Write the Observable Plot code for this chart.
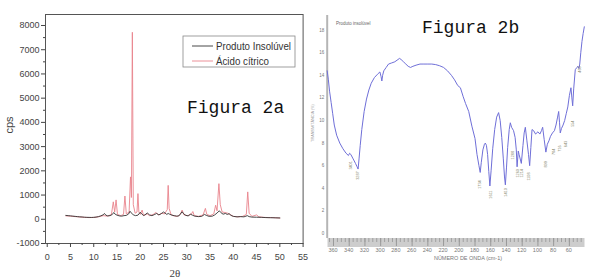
<!DOCTYPE html>
<html><head><meta charset="utf-8">
<script src="https://cdn.jsdelivr.net/npm/d3@7"></script>
<script src="https://cdn.jsdelivr.net/npm/@observablehq/plot@0.6"></script>
<style>
body{margin:0;background:#fff;}
#wrap{position:relative;width:600px;height:280px;overflow:hidden;background:#fff;}
#wrap > svg{position:absolute;top:0;}
</style></head><body><div id="wrap"></div>
<script>
// ---------- Figura 2a : XRD ----------
const insolTheta = [4.0,4.5,5,5.5,6,6.5,7,7.5,8,8.5,9,9.5,10,10.5,11,11.5,12,12.3,12.6,13,13.5,14,14.3,14.6,15,15.5,16,16.5,17,17.5,17.8,18.1,18.5,19,19.5,20,20.3,20.7,21,21.5,22,22.5,23,23.5,24,24.5,25,25.3,25.7,26,26.3,26.8,27.3,27.8,28.3,29,29.3,29.8,30.3,30.8,31.2,31.7,32.5,33.2,33.8,34.2,34.8,35.5,36,36.5,37,37.3,37.8,38.3,38.7,39.1,39.5,40,40.8,41.5,42.3,43,43.4,44,45,46,47,48,49,50];
const insolCps = [160,150,140,130,120,110,100,95,85,80,78,75,80,90,110,140,180,240,170,140,150,200,280,210,170,140,130,150,160,220,330,260,180,150,170,290,220,160,180,260,180,150,190,240,180,230,300,260,200,240,210,170,150,130,140,310,230,160,140,210,170,130,110,120,200,160,120,130,180,260,350,280,210,240,200,230,160,120,100,110,100,150,110,90,85,80,70,65,60,55];
const citricTheta = [4.0,5,6,7,8,9,10,11,12,13,13.8,14.2,14.5,14.8,15.1,15.8,16.4,16.7,17.0,17.6,17.9,18.1,18.3,18.5,18.9,19.3,19.5,19.7,20.0,20.4,20.7,21.5,22,22.8,23.3,24,24.6,25.2,25.8,26.0,26.2,26.6,27.2,28,28.6,29.0,29.4,30.2,31.0,31.3,31.6,32.5,33.5,34.0,34.3,35,35.8,36.2,36.5,36.9,37.2,37.6,38.2,38.8,39.3,40,41,42,42.8,43.1,43.4,44,45,45.5,46.5,47.5,48.5,50];
const citricCps = [140,130,110,95,80,70,75,100,150,130,200,720,300,800,200,150,200,960,220,300,1750,900,7720,600,250,300,1060,300,200,380,150,220,150,200,280,180,250,220,400,1400,450,200,140,120,200,380,180,150,220,320,150,120,180,450,200,150,220,580,350,1470,600,300,280,250,200,120,100,120,200,1130,250,120,180,100,80,70,70,50];
const xrdTicks = [0,5,10,15,20,25,30,35,40,45,50,55];
const xrdMinorTicks = [2.5,7.5,12.5,17.5,22.5,27.5,32.5,37.5,42.5,47.5,52.5];
const cpsTicks = [-1000,0,1000,2000,3000,4000,5000,6000,7000,8000];
const cpsMinorTicks = [-500,500,1500,2500,3500,4500,5500,6500,7500];
const seriesNames = ["Produto Insolúvel","Ácido cítrico"];

// ---------- Figura 2b : IR ----------
const irWavenumber = [3680,3665,3650,3630,3610,3590,3560,3520,3480,3440,3410,3395,3380,3350,3320,3300,3287,3275,3260,3240,3210,3180,3150,3120,3080,3040,3010,2995,2985,2975,2960,2930,2900,2860,2820,2780,2760,2740,2710,2680,2650,2620,2590,2550,2500,2450,2400,2350,2300,2250,2200,2150,2100,2060,2020,1986,1950,1920,1880,1840,1800,1775,1750,1734,1720,1700,1680,1669,1655,1640,1625,1611,1595,1575,1550,1525,1500,1480,1460,1440,1425,1414,1400,1385,1365,1351,1335,1310,1290,1275,1265,1250,1240,1211,1190,1175,1160,1140,1120,1105,1090,1075,1055,1030,1000,975,955,940,920,899,880,860,840,815,790,770,750,736,725,716,700,680,660,640,620,600,580,568,558,545,525,505,490,478,468,455,440,425,410];
const irTransmittance = [14.4,13.6,12.6,11.6,10.6,9.6,8.7,8.0,7.5,7.1,6.9,7.1,7.0,6.6,6.2,5.9,5.7,6.6,7.8,9.2,10.8,11.9,12.7,13.3,13.8,14.1,14.3,13.9,13.5,14.0,14.4,14.7,15.0,15.1,15.2,15.4,15.5,15.4,15.2,15.0,14.8,14.7,14.8,14.9,15.0,15.0,15.0,15.0,14.95,14.85,14.7,14.4,14.0,13.6,13.1,12.9,12.1,11.5,10.8,9.5,8.4,7.0,6.0,5.4,6.3,7.4,7.9,8.0,7.8,7.0,5.5,4.2,5.6,7.5,9.2,10.3,10.7,10.0,8.5,6.6,5.0,4.3,5.8,7.6,9.2,9.8,9.4,9.1,8.5,7.4,5.9,7.3,7.0,6.2,7.8,8.9,9.4,8.2,7.0,6.0,7.6,9.2,9.1,8.8,9.0,8.8,9.1,9.4,8.3,7.2,7.9,8.2,8.6,8.9,9.1,9.6,10.3,10.8,9.8,8.9,9.3,9.6,10.0,10.6,11.2,12.2,12.9,12.0,11.3,12.8,14.5,14.7,14.8,14.6,15.0,16.0,17.0,17.7,18.3];
const irYTicks = [0,2,4,6,8,10,12,14,16,18];
const irXTicks = [3600,3400,3200,3000,2800,2600,2400,2200,2000,1800,1600,1400,1200,1000,800,600];
const irXTickLabels = ["360","340","320","300","280","260","240","220","200","180","160","140","120","100","80","60"];
const irMinorTicks = d3.range(3650, 400, -50);
const irPeakWn = [3384,3286,1741,1605,1406,1326,1262,1211,1110,894,792,716,643,554,474];
const irPeakLabel = ["3401","3287","1734","1611","1410","1288","1260","1214","1108","899","784","716","643","554","469"];
const irPeakT = [6.4,5.5,4.7,3.8,4.0,7.3,5.7,5.7,5.4,6.4,7.5,7.8,8.2,10.0,14.8];

const insol = insolTheta.map((x, i) => ({x, y: insolCps[i]}));
const citric = citricTheta.map((x, i) => ({x, y: citricCps[i]}));
const ir = irWavenumber.map((wn, i) => ({wn, t: irTransmittance[i]}));
const peaks = irPeakWn.map((wn, i) => ({wn, t: irPeakT[i], label: irPeakLabel[i]}));

const left = Plot.plot({
  width: 306, height: 280,
  marginLeft: 45, marginRight: 3.4, marginTop: 14, marginBottom: 37,
  style: {background: "transparent", color: "#444", fontFamily: "'Liberation Sans', Arial, sans-serif", fontSize: "9px", overflow: "visible"},
  x: {domain: [-0.37, 55]},
  y: {domain: [-1000, 8454]},
  marks: [
    Plot.line(citric, {x: "x", y: "y", stroke: "#e9838c", strokeWidth: 0.9}),
    Plot.line(insol, {x: "x", y: "y", stroke: "#333", strokeWidth: 0.9}),
    Plot.frame({stroke: "#555"}),
    Plot.axisY({ticks: cpsTicks, tickSize: 4, tickPadding: 2, tickFormat: d => String(d), label: null}),
    Plot.axisY({ticks: cpsMinorTicks, tickSize: 2, fill: "none", label: null}),
    Plot.axisX({ticks: xrdTicks, tickSize: 4, tickPadding: 6, tickFormat: d => String(d), label: null}),
    Plot.axisX({ticks: xrdMinorTicks, tickSize: 2, fill: "none", label: null})
  ]
});
left.style.left = "0px";

const right = Plot.plot({
  width: 295, height: 280,
  marginLeft: 21.7, marginRight: 15.4, marginTop: 15, marginBottom: 42,
  style: {background: "transparent", color: "#777", fontFamily: "'Liberation Sans', Arial, sans-serif", fontSize: "5px", overflow: "visible"},
  x: {domain: [3680, 400]},
  y: {domain: [-0.45, 19.3]},
  marks: [
    Plot.ruleX([3680], {stroke: "#b5b5b5", strokeWidth: 2}),
    Plot.axisY({ticks: irYTicks, tickSize: 0, tickPadding: 3, fontSize: 4.5, label: null}),
    Plot.line(ir, {x: "wn", y: "t", stroke: "#6f6fd8", strokeWidth: 1}),
    Plot.text(peaks, {x: "wn", y: "t", text: "label", rotate: -90, textAnchor: "end", fontSize: 3.8, fill: "#8a8a70"}),
    Plot.axisX({ticks: irMinorTicks, tickSize: 4, stroke: "#a0a0a0", fill: "none", label: null}),
    Plot.axisX({ticks: irXTicks, tickSize: 8, stroke: "#999", fill: "none", label: null})
  ]
});
right.style.left = "305px";
// gray ruler band under the IR plot
d3.select(right).insert("rect", "g")
  .attr("x", 22.5).attr("y", 238).attr("width", 257).attr("height", 9)
  .attr("fill", "#cdcdcd");
// tick labels below the band, positioned with the plot's own x scale
const irX = right.scale("x");
d3.select(right).append("g").selectAll("text").data(irXTicks).join("text")
  .attr("x", d => irX.apply(d)).attr("y", 250.5).attr("dy", "0.35em").attr("text-anchor", "middle")
  .attr("font-size", 5.5).attr("fill", "#777")
  .text((d, i) => irXTickLabels[i]);

const wrap = document.getElementById("wrap");
wrap.appendChild(left);
wrap.appendChild(right);

// annotation overlay
const ov = d3.select(wrap).append("svg")
  .attr("width", 600).attr("height", 280)
  .style("left", "0px").style("pointer-events", "none").style("overflow", "visible");

// legend
ov.append("rect").attr("x", 183).attr("y", 36).attr("width", 112).attr("height", 31)
  .attr("fill", "#fff").attr("stroke", "#888").attr("stroke-width", 0.8);
ov.append("line").attr("x1", 192).attr("x2", 213).attr("y1", 46).attr("y2", 46).attr("stroke", "#333").attr("stroke-width", 0.9);
ov.append("line").attr("x1", 192).attr("x2", 213).attr("y1", 61).attr("y2", 61).attr("stroke", "#e9838c").attr("stroke-width", 0.9);
const legFont = "'Liberation Sans', Arial, sans-serif";
ov.append("text").attr("x", 216).attr("y", 46).attr("dy", "0.35em").attr("font-family", legFont).attr("font-size", 11.5)
  .attr("textLength", 75).attr("lengthAdjust", "spacingAndGlyphs").attr("fill", "#333").text(seriesNames[0]);
ov.append("text").attr("x", 216).attr("y", 61).attr("dy", "0.35em").attr("font-family", legFont).attr("font-size", 11.5)
  .attr("textLength", 53).attr("lengthAdjust", "spacingAndGlyphs").attr("fill", "#333").text(seriesNames[1]);

// figure titles
ov.append("text").attr("x", 187).attr("y", 113).attr("font-family", "'Liberation Mono', 'DejaVu Sans Mono', monospace").attr("font-size", 18).attr("fill", "#111").text("Figura 2a");
ov.append("text").attr("x", 422).attr("y", 33).attr("font-family", "'Liberation Mono', 'DejaVu Sans Mono', monospace").attr("font-size", 18).attr("fill", "#111").text("Figura 2b");

// left axis titles
ov.append("text").attr("transform", "translate(9,125) rotate(-90)").attr("text-anchor", "middle").attr("dy", "0.35em")
  .attr("font-family", "'Liberation Sans', Arial, sans-serif").attr("font-size", 11).attr("fill", "#444").text("cps");
ov.append("text").attr("x", 175).attr("y", 273).attr("text-anchor", "middle").attr("dy", "0.35em")
  .attr("font-family", "'Liberation Serif', 'DejaVu Serif', serif").attr("font-size", 11).attr("fill", "#444").text("2θ");

// right small texts
ov.append("text").attr("x", 336).attr("y", 23).attr("dy", "0.35em")
  .attr("font-family", "'Liberation Sans', Arial, sans-serif").attr("font-size", 4.5).attr("fill", "#666").text("Produto insolúvel");
ov.append("text").attr("transform", "translate(313,123) rotate(-90)").attr("text-anchor", "middle").attr("dy", "0.35em")
  .attr("font-family", "'Liberation Sans', Arial, sans-serif").attr("font-size", 3.8).attr("fill", "#999").text("TRANSMITÂNCIA (%)");
ov.append("text").attr("x", 468).attr("y", 258).attr("text-anchor", "middle").attr("dy", "0.35em")
  .attr("font-family", "'Liberation Sans', Arial, sans-serif").attr("font-size", 5.5).attr("fill", "#777").text("NÚMERO DE ONDA (cm-1)");
</script></body></html>
